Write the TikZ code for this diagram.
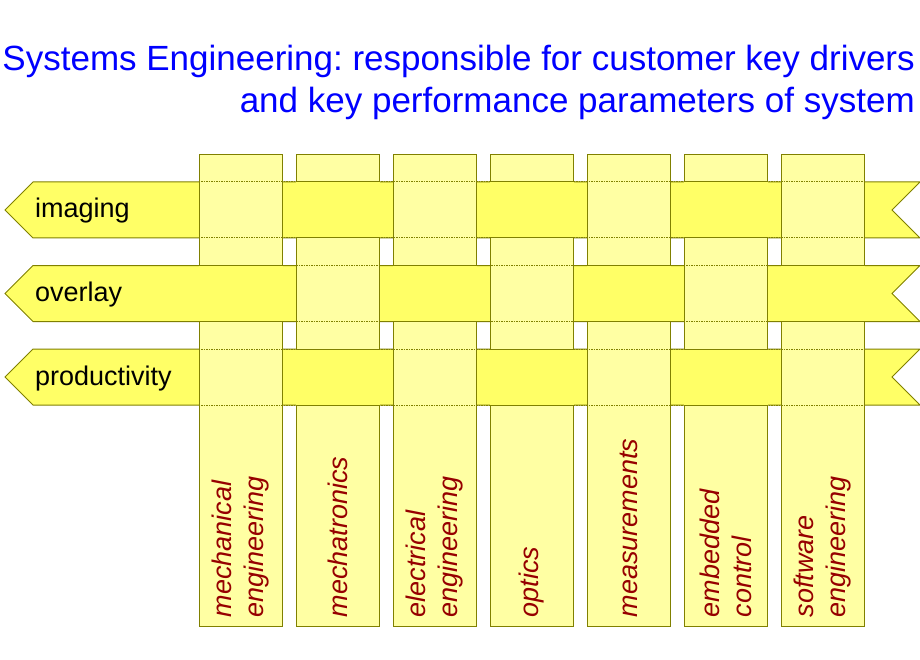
\documentclass[tikz,border=0pt]{standalone}
\usepackage{fontspec}
\setmainfont{Liberation Sans}
\usetikzlibrary{shapes.symbols, calc}
\frenchspacing
\definecolor{colfill}{RGB}{255,255,163}
\definecolor{bandfill}{RGB}{255,255,102}
\definecolor{edgeolive}{RGB}{128,128,0}
\definecolor{labelred}{RGB}{150,0,0}
\tikzset{
  discbox/.style={
    rectangle, draw=edgeolive, fill=colfill, line width=1pt,
    minimum width=83pt, minimum height=471pt
  },
  disctext/.style={
    rotate=90, anchor=west, inner sep=0pt, align=left,
    text=labelred, font=\fontsize{27}{32}\selectfont\itshape
  },
  driverband/.style={
    signal, signal to=west, signal from=east, signal pointer angle=90,
    draw=edgeolive, fill=bandfill, line width=1pt,
    minimum width=915pt, minimum height=56pt, inner sep=0pt, outer sep=0pt
  },
  drivertext/.style={anchor=base west, inner sep=0pt,
    font=\fontsize{27}{32}\selectfont},
  hiddenedge/.style={draw=edgeolive, line width=1pt,
    dash pattern=on 1.5pt off 1pt},
  bandpatch/.style={fill=bandfill},
  bandedge/.style={draw=edgeolive, line width=1pt},
}
\begin{document}
\begin{tikzpicture}[x=1pt, y=-1pt]
    \useasboundingbox (0,0) rectangle (920,660);
    \node[anchor=north east, inner sep=0pt, align=right, text=blue,
          font=\fontsize{35}{42}\selectfont] (title) at (915,45)
         {Systems Engineering: responsible for customer key drivers\\
          and key performance parameters of system};
    % key drivers (drawn first, columns go over them)
    \node[driverband] (img) at (462.5,210)   {};
    \node[driverband] (ovl) at (462.5,293.5) {};
    \node[driverband] (prd) at (462.5,377)   {};
    % disciplines
    \node[discbox] (mech) at (240.5,390.5) {};
    \node[discbox] (mtr)  at (337.5,390.5) {};
    \node[discbox] (elec) at (434.5,390.5) {};
    \node[discbox] (opt)  at (531.5,390.5) {};
    \node[discbox] (meas) at (628.5,390.5) {};
    \node[discbox] (emb)  at (725.5,390.5) {};
    \node[discbox] (sw)   at (822.5,390.5) {};
    % band edges seen through the columns
    \draw[hiddenedge] (mech.west |- img.north) -- (sw.east |- img.north);
    \draw[hiddenedge] (mech.west |- img.south) -- (sw.east |- img.south);
    \draw[hiddenedge] (mech.west |- ovl.north) -- (sw.east |- ovl.north);
    \draw[hiddenedge] (mech.west |- ovl.south) -- (sw.east |- ovl.south);
    \draw[hiddenedge] (mech.west |- prd.north) -- (sw.east |- prd.north);
    \draw[hiddenedge] (mech.west |- prd.south) -- (sw.east |- prd.south);
    % imaging over mechatronics, optics, embedded control
    \fill[bandpatch] (mtr.west |- img.north) rectangle (mtr.east |- img.south);
    \draw[bandedge] (mtr.west |- img.north) -- (mtr.east |- img.north)
                    (mtr.west |- img.south) -- (mtr.east |- img.south);
    \fill[bandpatch] (opt.west |- img.north) rectangle (opt.east |- img.south);
    \draw[bandedge] (opt.west |- img.north) -- (opt.east |- img.north)
                    (opt.west |- img.south) -- (opt.east |- img.south);
    \fill[bandpatch] (emb.west |- img.north) rectangle (emb.east |- img.south);
    \draw[bandedge] (emb.west |- img.north) -- (emb.east |- img.north)
                    (emb.west |- img.south) -- (emb.east |- img.south);
    % overlay over mechanical, electrical, measurements, software
    \fill[bandpatch] (mech.west |- ovl.north) rectangle (mech.east |- ovl.south);
    \draw[bandedge] (mech.west |- ovl.north) -- (mech.east |- ovl.north)
                    (mech.west |- ovl.south) -- (mech.east |- ovl.south);
    \fill[bandpatch] (elec.west |- ovl.north) rectangle (elec.east |- ovl.south);
    \draw[bandedge] (elec.west |- ovl.north) -- (elec.east |- ovl.north)
                    (elec.west |- ovl.south) -- (elec.east |- ovl.south);
    \fill[bandpatch] (meas.west |- ovl.north) rectangle (meas.east |- ovl.south);
    \draw[bandedge] (meas.west |- ovl.north) -- (meas.east |- ovl.north)
                    (meas.west |- ovl.south) -- (meas.east |- ovl.south);
    \fill[bandpatch] (sw.west |- ovl.north) rectangle (sw.east |- ovl.south);
    \draw[bandedge] (sw.west |- ovl.north) -- (sw.east |- ovl.north)
                    (sw.west |- ovl.south) -- (sw.east |- ovl.south);
    % productivity over mechatronics, optics, embedded control
    \fill[bandpatch] (mtr.west |- prd.north) rectangle (mtr.east |- prd.south);
    \draw[bandedge] (mtr.west |- prd.north) -- (mtr.east |- prd.north)
                    (mtr.west |- prd.south) -- (mtr.east |- prd.south);
    \fill[bandpatch] (opt.west |- prd.north) rectangle (opt.east |- prd.south);
    \draw[bandedge] (opt.west |- prd.north) -- (opt.east |- prd.north)
                    (opt.west |- prd.south) -- (opt.east |- prd.south);
    \fill[bandpatch] (emb.west |- prd.north) rectangle (emb.east |- prd.south);
    \draw[bandedge] (emb.west |- prd.north) -- (emb.east |- prd.north)
                    (emb.west |- prd.south) -- (emb.east |- prd.south);
    % labels
    \node[drivertext] (imgl) at ($(img.west)+(30,8)$) {imaging};
    \node[drivertext] (ovll) at ($(ovl.west)+(30,8)$) {overlay};
    \node[drivertext] (prdl) at ($(prd.west)+(30,8)$) {productivity};
    \node[disctext] (mechl) at ($(mech.south)+(0,-9)$) {mechanical\\engineering};
    \node[disctext] (mtrl)  at ($(mtr.south)+(0,-9)$)  {mechatronics};
    \node[disctext] (elecl) at ($(elec.south)+(0,-9)$) {electrical\\engineering};
    \node[disctext] (optl)  at ($(opt.south)+(0,-9)$)  {optics};
    \node[disctext] (measl) at ($(meas.south)+(0,-9)$) {measurements};
    \node[disctext] (embl)  at ($(emb.south)+(0,-9)$)  {embedded\\control};
    \node[disctext] (swl)   at ($(sw.south)+(0,-9)$)   {software\\engineering};
\end{tikzpicture}
\end{document}
